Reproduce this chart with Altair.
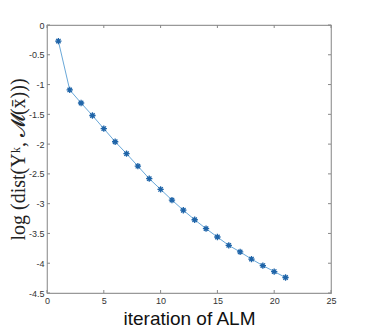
import altair as alt
import pandas as pd

iterations = list(range(1, 22))
log_dist = [-0.27, -1.09, -1.31, -1.52, -1.74, -1.96, -2.16, -2.37, -2.58, -2.76,
            -2.94, -3.11, -3.27, -3.42, -3.56, -3.70, -3.81, -3.93, -4.04, -4.14, -4.24]
x_ticks = [0, 5, 10, 15, 20, 25]
y_ticks = [0, -0.5, -1, -1.5, -2, -2.5, -3, -3.5, -4, -4.5]

W, H = 284, 268
df = pd.DataFrame({"it": iterations, "v": log_dist})
dx = pd.DataFrame({"t": x_ticks})
dy = pd.DataFrame({"t": y_ticks})

xs = alt.Scale(domain=[0, 25], nice=False)
ys = alt.Scale(domain=[-4.5, 0], nice=False)

xaxis = alt.Axis(values=x_ticks, tickSize=0, labelPadding=3, labelFontSize=9,
                 labelFont="Liberation Sans", labelColor="#333333", domain=False,
                 grid=False, labelOverlap=False, labelFlush=False,
                 title="iteration of ALM", titleFont="Liberation Sans",
                 titleFontSize=19, titleFontWeight="normal", titleColor="#111111",
                 titleY=25, titleBaseline="middle", labelExpr="toString(datum.value)")
yaxis = alt.Axis(values=y_ticks, tickSize=0, labelPadding=3, labelFontSize=9,
                 labelFont="Liberation Sans", labelColor="#333333", domain=False,
                 grid=False, labelOverlap=False, labelFlush=False,
                 title="log (dist(Yᵏ, 𝓜(x̄)))", titleFont="Liberation Serif",
                 titleFontSize=20, titleFontWeight="normal", titleColor="#222222",
                 titleX=-29, titleBaseline="middle", labelExpr="toString(datum.value)")

line = alt.Chart(df).mark_line(color="#6aa8d8", strokeWidth=1).encode(
    x=alt.X("it:Q", scale=xs, axis=xaxis),
    y=alt.Y("v:Q", scale=ys, axis=yaxis),
)
star = "M-1,0L1,0M0,-1L0,1M-0.7,-0.7L0.7,0.7M-0.7,0.7L0.7,-0.7"
halo = alt.Chart(df).mark_point(shape="circle", filled=True, color="#a8cdea", size=22, opacity=0.7).encode(
    x=alt.X("it:Q", scale=xs, axis=xaxis), y=alt.Y("v:Q", scale=ys, axis=yaxis))
pts = alt.Chart(df).mark_point(shape=star, filled=False, color="#1f64a8", size=40, strokeWidth=1.3, opacity=1).encode(
    x=alt.X("it:Q", scale=xs, axis=xaxis), y=alt.Y("v:Q", scale=ys, axis=yaxis))

tc = "#888888"
xb = alt.Chart(dx).mark_rule(color=tc, strokeWidth=1).encode(
    x=alt.X("t:Q", scale=xs, axis=xaxis), y=alt.value(H), y2=alt.value(H - 3))
xt = alt.Chart(dx).mark_rule(color=tc, strokeWidth=1).encode(
    x=alt.X("t:Q", scale=xs, axis=xaxis), y=alt.value(0), y2=alt.value(3))
yl = alt.Chart(dy).mark_rule(color=tc, strokeWidth=1).encode(
    y=alt.Y("t:Q", scale=ys, axis=yaxis), x=alt.value(0), x2=alt.value(3))
yr = alt.Chart(dy).mark_rule(color=tc, strokeWidth=1).encode(
    y=alt.Y("t:Q", scale=ys, axis=yaxis), x=alt.value(W), x2=alt.value(W - 3))

chart = alt.layer(line, xb, xt, yl, yr, halo, pts).properties(
    width=W, height=H,
    background="white",
    autosize=alt.AutoSizeParams(type="none"),
    padding={"left": 39, "top": 17, "right": 26, "bottom": 36},
).configure_view(stroke="#999999", strokeWidth=1.2)

chart.save("out.html", embed_options={"renderer": "svg", "actions": False})
